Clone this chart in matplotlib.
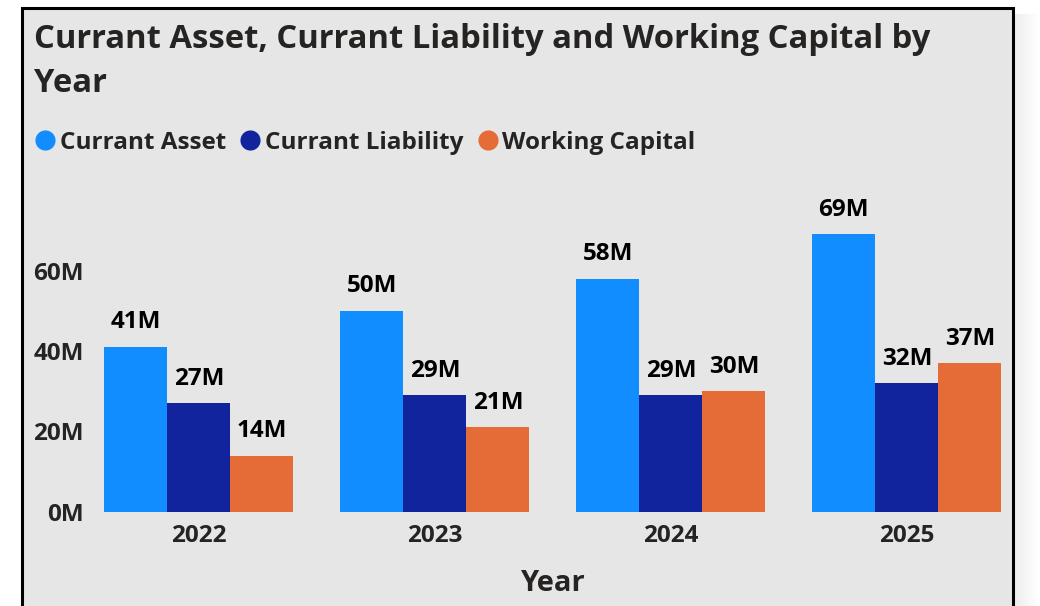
import matplotlib
matplotlib.use("Agg")
import matplotlib.pyplot as plt
import numpy as np
from matplotlib.lines import Line2D
from matplotlib.patches import Rectangle

years = ["2022", "2023", "2024", "2025"]
current_asset = [41, 50, 58, 69]
current_liability = [27, 29, 29, 32]
working_capital = [14, 21, 30, 37]
series_names = ["Currant Asset", "Currant Liability", "Working Capital"]
colors = ["#118DFF", "#12239E", "#E66C37"]
yticks = [0, 20, 40, 60]

W, H = 1040, 606
BG = "#E6E6E6"
TXT = "#252423"
plt.rcParams["font.family"] = ["Open Sans", "DejaVu Sans"]

fig = plt.figure(figsize=(W / 100, H / 100), dpi=100, facecolor="white")


def px(x, y):
    # pixel coords (top-left origin) -> figure fraction
    return x / W, 1 - y / H


# soft shadow on the right, then the framed card
for i in range(26):
    a = 0.30 * (1 - i / 26)
    fig.patches.append(Rectangle(((1013 + i) / W, 0), 1 / W, 1 - 14 / H,
                                 transform=fig.transFigure, facecolor="black",
                                 alpha=a * 0.25, edgecolor="none", zorder=0))
x0, y0 = px(22, 640)
x1, y1 = px(1013, 8)
fig.patches.append(Rectangle((x0, y0), x1 - x0, y1 - y0, transform=fig.transFigure,
                             facecolor=BG, edgecolor="black", linewidth=2.2, zorder=1))

# axes area in pixels
left, right, top, bottom = 95, 1010, 190, 512
ax = fig.add_axes([left / W, 1 - bottom / H, (right - left) / W, (bottom - top) / H])
ax.set_facecolor("none")
ax.set_zorder(2)

x = np.arange(len(years))
width = 0.267
for k, (vals, c) in enumerate(zip([current_asset, current_liability, working_capital], colors)):
    bars = ax.bar(x + (k - 1) * width, vals, width, color=c, zorder=3)
    for b, v in zip(bars, vals):
        ax.annotate(f"{v}M", (b.get_x() + b.get_width() / 2, v), xytext=(0, 9),
                    textcoords="offset points", ha="center", va="bottom",
                    fontsize=17.5, fontweight="bold", color="black")

ax.set_xlim(-0.44, 3.437)
ax.set_ylim(0, 80)
ax.set_yticks(yticks)
ax.set_yticklabels([f"{t}M" for t in yticks])
ax.set_xticks(x)
ax.set_xticklabels(years)
ax.tick_params(length=0, labelsize=17.5, colors=TXT)
ax.tick_params(axis="y", pad=8)
ax.tick_params(axis="x", pad=9)
for lab in ax.get_xticklabels() + ax.get_yticklabels():
    lab.set_fontweight("bold")
for s in ax.spines.values():
    s.set_visible(False)
ax.set_xlabel("Year", fontsize=21, fontweight="bold", color=TXT, labelpad=15)

fig.text(34 / W, 1 - 40 / H, "Currant Asset, Currant Liability and Working Capital by",
         fontsize=23.6, fontweight="bold", color=TXT, va="center", ha="left")
fig.text(34 / W, 1 - 84 / H, "Year",
         fontsize=23.6, fontweight="bold", color=TXT, va="center", ha="left")

handles = [Line2D([], [], marker="o", linestyle="none", markersize=14.5,
                  markerfacecolor=c, markeredgecolor="none") for c in colors]
leg = fig.legend(handles, series_names, loc="center left", bbox_to_anchor=px(21, 143),
                 ncol=3, frameon=False, handletextpad=0.0, columnspacing=0.4,
                 handlelength=1.2, borderaxespad=0,
                 prop={"weight": "bold", "size": 17.5, "family": ["Open Sans", "DejaVu Sans"]})
for t in leg.get_texts():
    t.set_color(TXT)

fig.savefig("out.png", dpi=100, facecolor="white")
